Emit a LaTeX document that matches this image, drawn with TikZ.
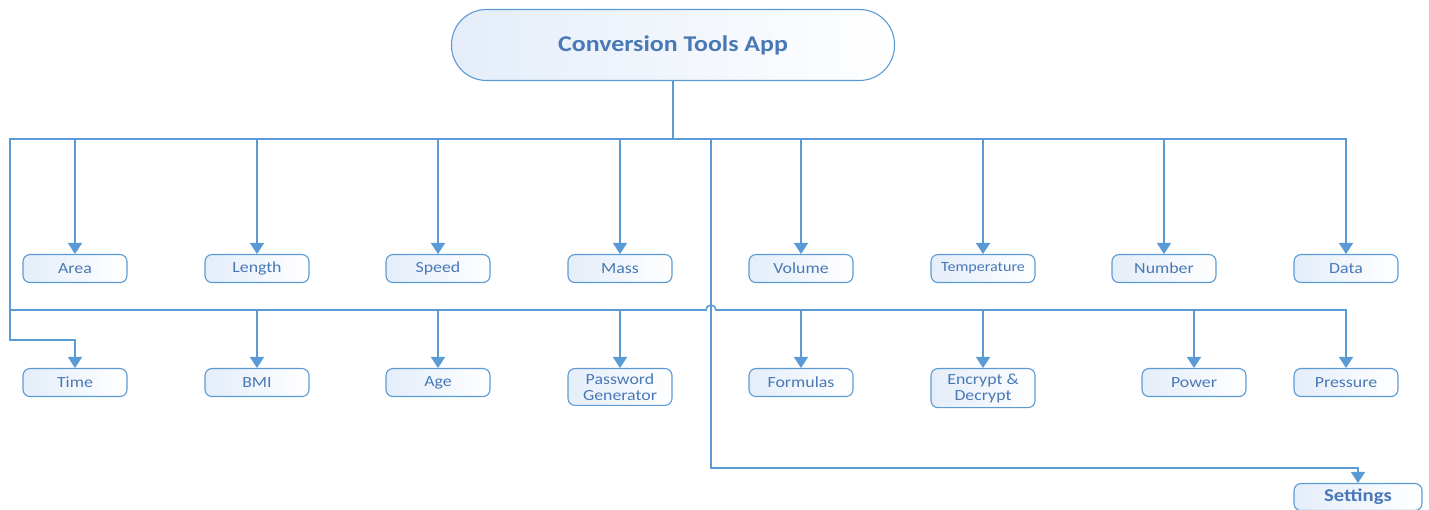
\documentclass[tikz,border=0pt]{standalone}
\usepackage{fontspec}
\setmainfont{Carlito}[FakeStretch=1.15]
\usetikzlibrary{positioning, arrows.meta}
\definecolor{lineblue}{RGB}{91,155,213}
\definecolor{textblue}{RGB}{72,120,182}
\definecolor{fillblue}{RGB}{228,237,249}

\begin{document}
\begin{tikzpicture}[
        x=1pt, y=1pt,
        box/.style = {rectangle, rounded corners=7pt, draw=lineblue, line width=1.1pt,
                    shading=axis, shading angle=60, left color=fillblue, right color=white, text=textblue,
                    font=\fontsize{15.5}{16}\selectfont, align=center, anchor=north,
                    minimum width=104pt, minimum height=28pt, inner ysep=5pt},
        link/.style = {draw=lineblue, line width=1.6pt},
        arr/.style = {link, -{Triangle[width=14pt,length=11pt]}}
                    ]
        \useasboundingbox (0,0) rectangle (1429,510);
        \node (app) [box, anchor=center, minimum width=443pt, minimum height=71pt,
                    rounded corners=35pt, font=\bfseries\fontsize{22.5}{24}\selectfont] at (673,465) {Conversion Tools App};
        % first row
        \node (area) [box] at (75,256) {Area};
        \node (length) [box] at (257,256) {Length};
        \node (speed) [box] at (438,256) {Speed};
        \node (mass) [box] at (620,256) {Mass};
        \node (volume) [box] at (801,256) {Volume};
        \node (temp) [box, font=\fontsize{14}{15}\selectfont] at (983,256) {Temperature};
        \node (number) [box] at (1164,256) {Number};
        \node (data) [box] at (1346,256) {Data};
        % second row
        \node (time) [box] at (75,142) {Time};
        \node (bmi) [box] at (257,142) {BMI};
        \node (age) [box] at (438,142) {Age};
        \node (password) [box] at (620,142) {Password\\Generator};
        \node (formulas) [box] at (801,142) {Formulas};
        \node (encrypt) [box] at (983,142) {Encrypt \&\\Decrypt};
        \node (power) [box] at (1194,142) {Power};
        \node (pressure) [box] at (1346,142) {Pressure};
        \node (settings) [box, minimum width=128pt, minimum height=27pt, inner ysep=3pt,
                    font=\bfseries\fontsize{18}{20}\selectfont] at (1358,27) {Settings};
        %
        \coordinate (hub) at (673,371);
        \coordinate (leftbend) at (10,170);
        \coordinate (busleft) at (10,200);
        \coordinate (hop) at (706,200);
        \coordinate (settop) at (711,371);
        \coordinate (setbend) at (711,42);
        %
        \draw[link] (app) -- (hub);
        \draw[arr] (hub) -| (data);
        \draw[arr] (hub) -| (leftbend) -| (time);
        \foreach \n in {area, length, speed, mass, volume, temp, number}
            \draw[arr] (\n |- hub) -- (\n);
        \draw[arr] (busleft) -- (hop) arc[start angle=180, end angle=0, radius=5pt] -| (pressure);
        \foreach \n in {bmi, age, password, formulas, encrypt, power}
            \draw[arr] (\n |- busleft) -- (\n);
        \draw[arr] (settop) -- (setbend) -| (settings);
    \end{tikzpicture}
\end{document}
